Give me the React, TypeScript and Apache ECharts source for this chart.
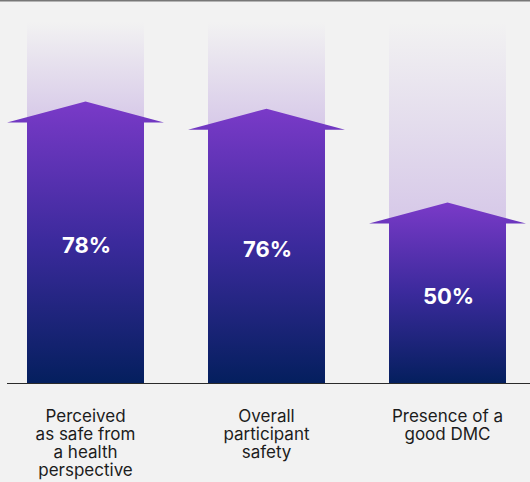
import React, { useEffect, useRef } from "react";
import * as echarts from "echarts";

const categories = [
  "Perceived\nas safe from\na health\nperspective",
  "Overall\nparticipant\nsafety",
  "Presence of a\ngood DMC",
];
const values = [78, 76, 50];
const maxValue = 100;

export default function App() {
  const ref = useRef<HTMLDivElement>(null);
  useEffect(() => {
    document.body.style.margin = "0";
    const chart = echarts.init(ref.current!, null, { renderer: "svg" });
    chart.setOption({
      animation: false,
      backgroundColor: "#f2f2f2",
      grid: { left: -5, top: 22, width: 543, height: 361, containLabel: false, outerBoundsMode: "none" },
      xAxis: {
        type: "category",
        data: categories,
        axisLine: { show: false },
        axisTick: { show: false },
        splitLine: { show: false },
        axisLabel: {
          interval: 0,
          fontFamily: "Inter",
          fontSize: 17,
          lineHeight: 18,
          color: "#1c1c1c",
          margin: 24,
        },
      },
      yAxis: { type: "value", min: 0, max: maxValue, show: false },
      graphic: [
        { type: "rect", shape: { x: 0, y: 0, width: 530, height: 1.5 }, style: { fill: "#777777" }, z: 100 },
        { type: "line", shape: { x1: 7, y1: 383.5, x2: 530, y2: 383.5 }, style: { stroke: "#2b2b2b", lineWidth: 1 }, z: 100 },
      ],
      series: [
        {
          type: "custom",
          data: values.map((v, i) => [i, v]),
          renderItem: (params: any, api: any) => {
            const i = api.value(0);
            const v = api.value(1);
            const [cx, yTip] = api.coord([i, v]);
            const [, yBase] = api.coord([i, 0]);
            const [, yTop] = api.coord([i, maxValue]);
            const half = 58.5;
            const wing = 20;
            const head = 21;
            const yHead = yTip + head;
            return {
              type: "group",
              children: [
                {
                  type: "rect",
                  shape: { x: cx - half, y: yTop, width: half * 2, height: yTip - yTop + head },
                  style: {
                    fill: new echarts.graphic.LinearGradient(0, 0, 0, 1, [
                      { offset: 0, color: "rgba(214,200,232,0)" },
                      { offset: 1, color: "rgba(214,200,232,1)" },
                    ]),
                  },
                },
                {
                  type: "polygon",
                  shape: {
                    points: [
                      [cx - half, yBase],
                      [cx - half, yHead],
                      [cx - half - wing, yHead],
                      [cx, yTip],
                      [cx + half + wing, yHead],
                      [cx + half, yHead],
                      [cx + half, yBase],
                    ],
                  },
                  style: {
                    fill: new echarts.graphic.LinearGradient(0, 0, 0, 1, [
                      { offset: 0, color: "#7a3ac8" },
                      { offset: 0.5, color: "#3b2a9c" },
                      { offset: 1, color: "#041f5e" },
                    ]),
                  },
                },
                {
                  type: "text",
                  style: {
                    text: v + "%",
                    x: cx + 1,
                    y: (yTip + yBase) / 2 + 3,
                    align: "center",
                    verticalAlign: "middle",
                    fill: "#ffffff",
                    fontFamily: "Inter",
                    fontWeight: "bold",
                    fontSize: 22,
                  },
                },
              ],
            };
          },
        },
      ],
    });
    return () => chart.dispose();
  }, []);
  return <div ref={ref} style={{ width: 530, height: 482 }} />;
}
